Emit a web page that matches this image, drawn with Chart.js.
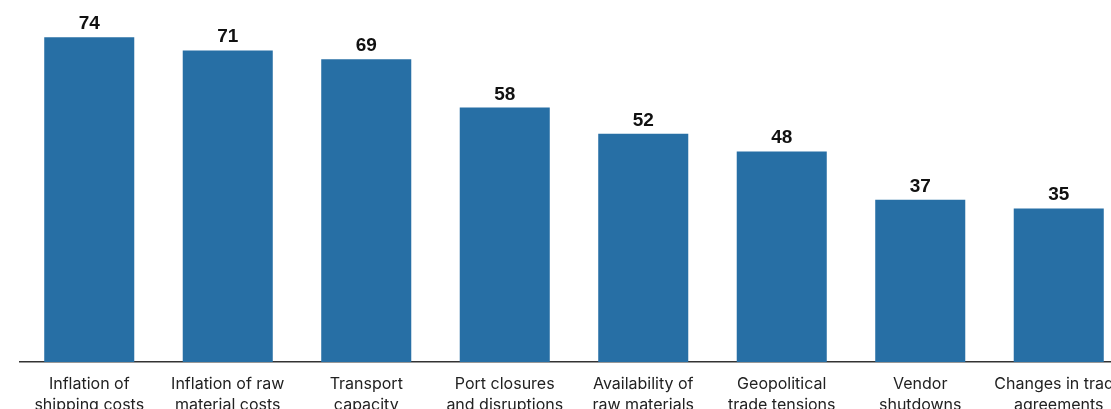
<html>
<head>
	<meta charset="utf-8">
	<title>Supply chain disruptions</title>
	<script src="https://cdn.jsdelivr.net/npm/chart.js@4/dist/chart.umd.min.js"></script>
	<style>
		body { margin: 0; overflow: hidden; background: #fff; }
		#chart { position: relative; width: 1130px; height: 440px; }
	</style>
</head>
<body>
	<!-- Case qui contient le graphique -->
	<div id="chart">
		<canvas id="myChart"></canvas>
	</div>

	<script>
		// categories (two lines each) and values
		var categories = [
			["Inflation of", "shipping costs"],
			["Inflation of raw", "material costs"],
			["Transport", "capacity"],
			["Port closures", "and disruptions"],
			["Availability of", "raw materials"],
			["Geopolitical", "trade tensions"],
			["Vendor", "shutdowns"],
			["Changes in trade", "agreements"]
		];
		var values = [74, 71, 69, 58, 52, 48, 37, 35];

		var barColor = '#276fa5';

		// writes the value above each bar
		var valueLabels = {
			id: 'valueLabels',
			afterDatasetsDraw: function(chart) {
				var ctx = chart.ctx;
				var meta = chart.getDatasetMeta(0);
				ctx.save();
				ctx.font = 'bold 19px "Liberation Sans", Arial, sans-serif';
				ctx.fillStyle = '#111';
				ctx.textAlign = 'center';
				ctx.textBaseline = 'alphabetic';
				for (var i = 0; i < meta.data.length; i++) {
					var bar = meta.data[i];
					ctx.fillText(String(values[i]), bar.x, bar.y - 8);
				}
				ctx.restore();
			}
		};

		var ctx = document.getElementById('myChart').getContext('2d');
		var chart = new Chart(ctx, {
			type: 'bar',
			data: {
				labels: categories,
				datasets: [{
					data: values,
					backgroundColor: barColor,
					categoryPercentage: 1,
					barPercentage: 0.65
				}]
			},
			options: {
				responsive: true,
				maintainAspectRatio: false,
				animation: false,
				layout: { padding: { left: 20, right: 2, top: 0, bottom: 0 } },
				plugins: {
					legend: { display: false },
					tooltip: { enabled: false }
				},
				scales: {
					x: {
						grid: { display: false, drawTicks: false },
						border: { display: true, color: '#333', width: 1.5 },
						ticks: {
							color: '#222',
							font: { family: 'Inter, "Noto Sans", sans-serif', size: 16, lineHeight: '21px' },
							padding: 12,
							maxRotation: 0,
							autoSkip: false
						},
						afterFit: function(scale) {
							scale.height = 78;
							// labels may overflow, keep the bars where they are
							scale.paddingLeft = 0;
							scale.paddingRight = 0;
						}
					},
					y: {
						display: false,
						min: 0,
						max: 82.5
					}
				}
			},
			plugins: [valueLabels]
		});
	</script>
</body>
</html>
